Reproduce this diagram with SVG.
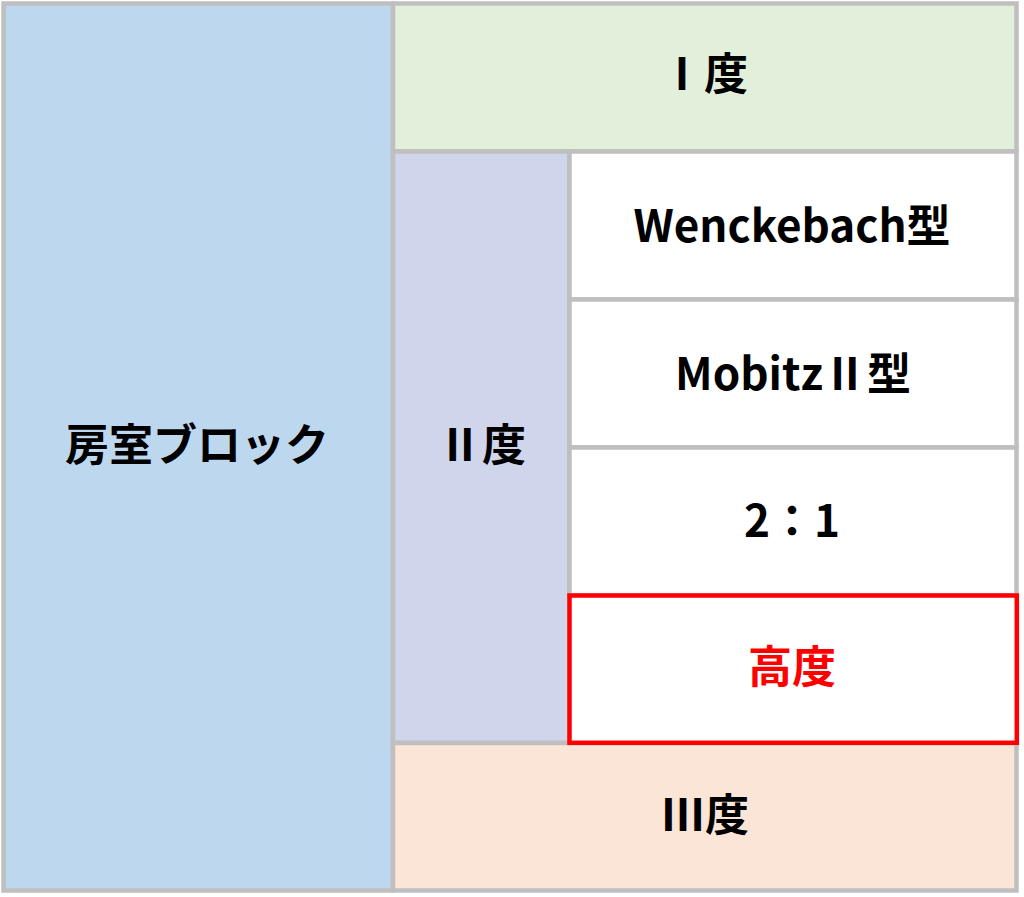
<svg xmlns="http://www.w3.org/2000/svg" width="1024" height="897" viewBox="0 0 1024 897">
<style>
.cell{stroke:#BFBFBF;stroke-width:4.5}
.lbl{font-family:"Noto Sans CJK JP","Noto Sans",sans-serif;font-weight:bold;font-size:44px;text-anchor:middle;fill:#000}
.red{fill:#FF0000}
</style>
<rect x="0" y="0" width="1024" height="897" fill="#FFFFFF"/>
<g id="node-avblock">
<rect class="cell" x="3.5" y="3.5" width="389.5" height="887" fill="#BDD7EE"/>
<text class="lbl" x="197" y="461">房室ブロック</text>
</g>
<g id="node-deg1">
<rect class="cell" x="393" y="3.5" width="623.5" height="148" fill="#E2EFDA"/>
<text class="lbl" x="704" y="90">Ⅰ度</text>
</g>
<g id="node-deg2">
<rect class="cell" x="393" y="151.5" width="176.5" height="591.5" fill="#CFD5EA"/>
<text class="lbl" x="482" y="461">Ⅱ度</text>
</g>
<g id="node-wenckebach">
<rect class="cell" x="569.5" y="151.5" width="447" height="148" fill="#FFFFFF"/>
<text class="lbl" x="792" y="242" font-size="47">Wenckebach型</text>
</g>
<g id="node-mobitz">
<rect class="cell" x="569.5" y="299.5" width="447" height="148" fill="#FFFFFF"/>
<text class="lbl" x="793" y="390">MobitzⅡ型</text>
</g>
<g id="node-21">
<rect class="cell" x="569.5" y="447.5" width="447" height="148" fill="#FFFFFF"/>
<text class="lbl" x="792" y="537">2：1</text>
</g>
<g id="node-deg3">
<rect class="cell" x="393" y="743" width="623.5" height="147.5" fill="#FBE5D6"/>
<text class="lbl" x="705" y="831">Ⅲ度</text>
</g>
<g id="node-high">
<rect x="569.5" y="595.5" width="447.3" height="147.3" fill="#FFFFFF" stroke="#FF0000" stroke-width="4.5"/>
<text class="lbl red" x="792" y="683">高度</text>
</g>
<g id="connectors"></g>
</svg>
